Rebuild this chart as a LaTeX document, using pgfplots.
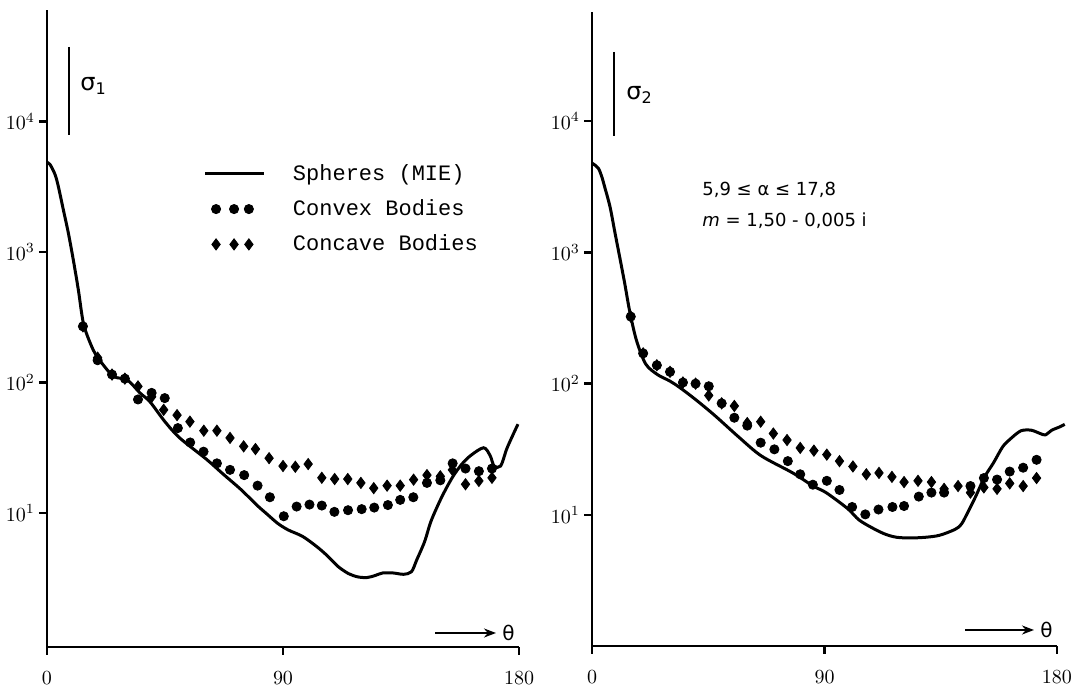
\documentclass[border=0pt]{standalone}
\usepackage{fontspec}
\setmainfont{Liberation Mono}
\newfontfamily\annfont{DejaVu Sans}
\usepackage{pgfplots}
\pgfplotsset{compat=1.18}
\usetikzlibrary{arrows.meta}

\tikzset{
  miecurve/.style={black, line width=1.5pt, smooth},
  convexmk/.style={black, only marks, mark=*, mark size=2.3pt},
  concavemk/.style={black, only marks, mark=diamond*, mark size=2.8pt},
}

\begin{document}
\begin{tikzpicture}
\path[use as bounding box] (0,0) rectangle (539pt,345.5pt);

% left panel: sigma_1
\begin{axis}[at={(23.5pt,22pt)}, anchor=south west,
  scale only axis, width=236pt, height=318.5pt,
  ymode=log, xmin=0, xmax=180, ymin=0.94, ymax=71450,
  axis x line*=bottom, axis y line*=left,
  axis line style={-, line width=1.4pt},
  xtick={0,90,180},
  ytick={10,100,1000,10000},
  yticklabels={$10^1$,$10^2$,$10^3$,$10^4$},
  yminorticks=false,
  tick align=outside, major tick length=4pt,
  tick style={line width=1.2pt, black},
  xticklabel style={font=\fontsize{10}{10}\selectfont, yshift=-5pt},
  yticklabel style={font=\fontsize{10}{10}\selectfont, xshift=1.5pt},
  clip=false,
  legend style={draw=none, fill=none, at={(0.319,0.771)}, anchor=north west,
    font=\fontsize{11}{11}\selectfont, row sep=4.2pt},
  legend cell align=left]
\addplot[miecurve, no marks, legend image code/.code={\draw[black, line width=1.5pt] (0pt,0pt) -- (29.5pt,0pt); \path (41pt,0pt);}] coordinates {
  (0,4850) (1.15,4680) (3.05,3930) (4.3,3190) (6.2,2120) (8.1,1410)
  (10.0,877) (11.95,513) (13.86,286) (16.5,200)
  (19.1,158) (25.2,112) (30.5,105) (35.5,83) (39.3,71) (45,50) (50.6,37.6)
  (60.9,25.7) (67,20) (74,15.1) (80,11.5) (84,9.77) (88,8.32) (92,7.41)
  (97.5,6.61) (103,5.50) (107,4.68) (111,3.89) (115,3.43) (118.5,3.24)
  (122,3.20) (125,3.31) (128,3.47) (132,3.47) (136,3.39) (139,3.55) (141,4.37)
  (144,6.03) (146.5,8.71) (150.5,13.2) (154.5,18.6) (158,23.4) (161.5,27.5)
  (166.5,31.6) (169,27.5) (170.5,22.9) (173,22.9) (175.3,30.9) (177.5,38.9)
  (179.6,47.9)
};
\addlegendentry{Spheres (MIE)}
\addplot[convexmk, legend image code/.code={\draw[convexmk] plot coordinates {(5.3pt,0pt) (14.3pt,0pt) (21.7pt,0pt)}; \path (41pt,0pt);}] coordinates {
  (13.7,269) (19.3,148) (24.8,115) (29.7,107) (34.7,74.1) (39.9,83.2)
  (44.9,75.9) (49.9,44.7) (54.6,34.7) (59.7,29.5) (64.8,24.0) (69.8,21.4)
  (75.2,19.5) (80.3,16.2) (85.0,13.2) (90.3,9.44) (95.2,11.2) (100.1,11.6)
  (104.8,11.4) (109.6,10.2) (114.8,10.5) (120.0,10.7) (124.8,11.0)
  (130.0,11.5) (134.7,12.6) (139.7,13.2) (144.9,17.0) (150.0,17.8)
  (154.7,24.0) (159.6,21.9) (164.7,20.9) (169.7,21.9)
};
\addlegendentry{Convex Bodies}
\addplot[concavemk, legend image code/.code={\draw[concavemk] plot coordinates {(5.3pt,0pt) (14.3pt,0pt) (21.7pt,0pt)}; \path (41pt,0pt);}] coordinates {
  (13.7,269) (19.3,155) (24.8,115) (29.7,107) (34.7,93.3) (39.9,77.6)
  (44.5,61.7) (49.6,56.2) (54.5,50.1) (59.8,42.7) (64.8,42.7) (69.8,37.6)
  (75.0,32.4) (79.5,30.9) (84.7,26.3) (90.0,22.9) (94.7,22.6) (99.6,23.7)
  (104.8,18.6) (109.7,18.2) (114.7,18.2) (119.7,17.0) (124.6,15.5)
  (129.7,16.2) (134.7,16.2) (139.8,18.0) (144.9,19.5) (150.0,19.1)
  (154.6,21.4) (159.6,16.6) (164.7,17.6) (169.7,18.6)
};
\addlegendentry{Concave Bodies}
\end{axis}

% right panel: sigma_2
\begin{axis}[at={(296pt,22.5pt)}, anchor=south west,
  scale only axis, width=232.5pt, height=317pt,
  ymode=log, xmin=0, xmax=180, ymin=1.005, ymax=67600,
  axis x line*=bottom, axis y line*=left,
  axis line style={-, line width=1.4pt},
  xtick={0,90,180},
  ytick={10,100,1000,10000},
  yticklabels={$10^1$,$10^2$,$10^3$,$10^4$},
  yminorticks=false,
  tick align=outside, major tick length=4pt,
  tick style={line width=1.2pt, black},
  xticklabel style={font=\fontsize{10}{10}\selectfont, yshift=-5pt},
  yticklabel style={font=\fontsize{10}{10}\selectfont, xshift=1.5pt},
  clip=false]
\addplot[miecurve, no marks] coordinates {
  (0,4780) (0.5,4710) (2.44,4370) (3.76,3780) (5.04,3080) (6.98,2220)
  (8.92,1400) (10.86,891) (12.7,575) (14.6,355) (17.2,214)
  (20.8,141) (25.4,117) (30,105) (34,93.3) (40,75.9) (47.4,57.5) (57,38.9)
  (65.5,28.2) (77.7,20.9) (85.6,16.6) (90.6,14.8) (98.9,11.2) (103.5,9.12)
  (109.6,7.76) (114,7.08) (118,6.76) (123,6.68) (129,6.76) (134.5,7.0)
  (140.5,7.76) (143,8.51) (145.5,10.5) (148.5,13.8) (152,19.5) (155.5,25.1)
  (159,33.1) (162,38.0) (166,43.7) (170,44.2) (173.5,41.7) (175.5,40.7)
  (178,44.2) (181,46.8) (183,49.0)
};
\addplot[convexmk] coordinates {
  (15,324) (19.8,170) (25.1,138) (30.2,123) (35.2,102) (40.1,100)
  (45.2,95.5) (50.2,70.8) (55.1,55.0) (60.1,47.9) (65.3,35.5) (70.6,31.6)
  (75.8,25.7) (80.6,20.4) (85.5,17.0) (90.9,18.2) (95.8,15.5) (100.7,11.5)
  (105.8,10.1) (110.9,11.0) (116.3,11.5) (120.8,11.7) (126.5,13.8)
  (131.4,14.8) (136.3,14.8) (146.5,16.6) (151.7,19.1) (156.8,18.6)
  (161.7,21.4) (166.9,22.9) (172.1,26.3)
};
\addplot[concavemk] coordinates {
  (15,324) (19.8,170) (25.1,138) (30.2,123) (35.2,102) (40.1,100)
  (45.2,81.3) (50.2,70.8) (55.1,67.6) (60.1,50.1) (65.3,51.3) (70.2,41.7)
  (75.5,37.2) (80.6,32.4) (85.9,30.9) (90.9,28.8) (95.8,25.7) (101.0,23.4)
  (106.2,20.4) (111.1,20.9) (116.1,19.5) (120.8,17.8) (126.2,18.2)
  (131.4,17.8) (136.3,15.8) (141.7,16.6) (146.5,14.8) (151.7,16.2)
  (156.8,15.8) (161.7,17.4) (166.9,16.6) (172.1,19.1)
};
\end{axis}

% annotations, in pixel units of the reference
\begin{scope}[yshift=345.5pt, x=0.5pt, y=-0.5pt]
  \draw[line width=1.2pt] (69,47) -- (69,135);
  \node[anchor=west, inner sep=0pt, font=\annfont\fontsize{12}{12}\selectfont] at (80,86) {σ\textsubscript{1}};
  \draw[line width=1.2pt] (614,52) -- (614,136);
  \node[anchor=west, inner sep=0pt, font=\annfont\fontsize{12}{12}\selectfont] at (626,95) {σ\textsubscript{2}};
  \draw[-{Stealth[length=6pt]}, line width=1.2pt] (435,633) -- (496,633);
  \node[anchor=west, inner sep=0pt, font=\annfont\fontsize{10}{10}\selectfont] at (502,633) {θ};
  \draw[-{Stealth[length=6pt]}, line width=1.2pt] (965,630) -- (1034,630);
  \node[anchor=west, inner sep=0pt, font=\annfont\fontsize{10}{10}\selectfont] at (1040,630) {θ};
  \node[anchor=west, inner sep=0pt, font=\annfont\fontsize{9}{9}\selectfont] at (702,190) {5,9 ≤ α ≤ 17,8};
  \node[anchor=west, inner sep=0pt, font=\annfont\fontsize{9}{9}\selectfont] at (702,221) {\itshape m\upshape{} = 1,50 - 0,005 i};
\end{scope}
\end{tikzpicture}
\end{document}
